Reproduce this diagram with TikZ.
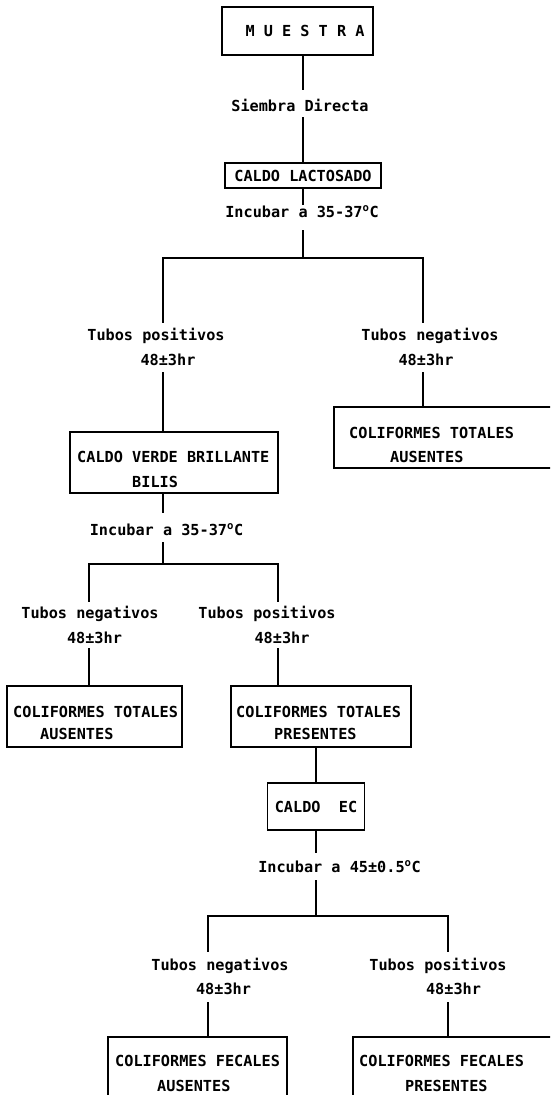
\documentclass[tikz,border=0pt]{standalone}
\usepackage{fontspec}
\setmainfont{DejaVu Sans Mono}
\begin{document}
\begin{tikzpicture}[x=1pt,y=-1pt,
  every node/.style={font=\fontsize{15.2}{24}\selectfont\bfseries},
  box/.style={draw, line width=1.5pt, rectangle, inner sep=0pt},
  lbl/.style={inner sep=0pt, anchor=base},
  btxt/.style={inner sep=0pt, anchor=base west},
  wire/.style={line width=1.5pt}]
\useasboundingbox (0,0) rectangle (550,1095);
\clip (0,0) rectangle (550,1095);

% boxes
\node[box, minimum width=151pt, minimum height=48pt] (muestra) at (297.5,31) {};
\node[btxt, anchor=base] (muestraT) at (305,36) {M U E S T R A};
\node[box, minimum width=156pt, minimum height=25pt] (lac) at (303,175.5) {CALDO LACTOSADO};
\node[box, minimum width=208pt, minimum height=61pt] (cvb) at (174,462.5) {};
\node[btxt] (cvbT1) at (77,462) {CALDO VERDE BRILLANTE};
\node[btxt] (cvbT2) at (132,487) {BILIS};
\node[box, minimum width=226pt, minimum height=61pt] (cta1) at (447,437.5) {};
\node[btxt] (cta1T1) at (349,438) {COLIFORMES TOTALES};
\node[btxt] (cta1T2) at (390,462) {AUSENTES};
\node[box, minimum width=175pt, minimum height=61pt] (cta2) at (94.5,716.5) {};
\node[btxt] (cta2T1) at (13,717) {COLIFORMES TOTALES};
\node[btxt] (cta2T2) at (40,739) {AUSENTES};
\node[box, minimum width=180pt, minimum height=61pt] (ctp) at (321,716.5) {};
\node[btxt] (ctpT1) at (236,717) {COLIFORMES TOTALES};
\node[btxt] (ctpT2) at (274,739) {PRESENTES};
\node[box, minimum width=97pt, minimum height=47pt] (ec) at (316,806.5) {CALDO\ \ EC};
\node[box, minimum width=179pt, minimum height=73pt] (cfa) at (197.5,1073.5) {};
\node[btxt] (cfaT1) at (115,1066) {COLIFORMES FECALES};
\node[btxt] (cfaT2) at (157,1091) {AUSENTES};
\node[box, minimum width=207pt, minimum height=73pt] (cfp) at (456.5,1073.5) {};
\node[btxt] (cfpT1) at (359,1066) {COLIFORMES FECALES};
\node[btxt] (cfpT2) at (405,1091) {PRESENTES};

% labels
\node[lbl, text height=21pt, text depth=6pt] (sd) at (300,111) {Siembra Directa};
\node[lbl, text height=12pt, text depth=13pt] (inc1) at (302,217) {Incubar a 35-37\textsuperscript{o}C};
\node[lbl, text height=17pt, text depth=3pt] (tp1a) at (156,340) {Tubos positivos};
\node[lbl, text height=10pt, text depth=7pt] (tp1b) at (168,365) {48±3hr};
\node[lbl, text height=17pt, text depth=3pt] (tn1a) at (430,340) {Tubos negativos};
\node[lbl, text height=10pt, text depth=7pt] (tn1b) at (426,365) {48±3hr};
\node[lbl, text height=22pt, text depth=7pt] (inc2) at (166.5,535) {Incubar a 35-37\textsuperscript{o}C};
\node[lbl, text height=16pt, text depth=3pt] (tn2a) at (90,618) {Tubos negativos};
\node[lbl, text height=10pt, text depth=5pt] (tn2b) at (94.5,643) {48±3hr};
\node[lbl, text height=16pt, text depth=3pt] (tp2a) at (267,618) {Tubos positivos};
\node[lbl, text height=10pt, text depth=5pt] (tp2b) at (282,643) {48±3hr};
\node[lbl, text height=19pt, text depth=8pt] (inc3) at (339.5,872) {Incubar a 45±0.5\textsuperscript{o}C};
\node[lbl, text height=18pt, text depth=3pt] (tn3a) at (220,970) {Tubos negativos};
\node[lbl, text height=10pt, text depth=8pt] (tn3b) at (223.5,994) {48±3hr};
\node[lbl, text height=18pt, text depth=3pt] (tp3a) at (438,970) {Tubos positivos};
\node[lbl, text height=10pt, text depth=8pt] (tp3b) at (453.5,994) {48±3hr};

% junctions
\coordinate (s1) at (303,258);
\coordinate (s1L) at (163,258);
\coordinate (s1R) at (423,258);
\coordinate (s2) at (163,564);
\coordinate (s2L) at (89,564);
\coordinate (s2R) at (278,564);
\coordinate (s3) at (316,916);
\coordinate (s3L) at (208,916);
\coordinate (s3R) at (448,916);

% connectors
\draw[wire] (muestra.south -| lac.north) -- (sd.north -| lac.north);
\draw[wire] (sd.south -| lac.north) -- (lac.north);
\draw[wire] (lac.south) -- (inc1.north -| lac.south);
\draw[wire] (inc1.south -| s1) -- (s1);
\draw[wire] (tp1a.north -| s1L) -- (s1L) -- (s1R) -- (tn1a.north -| s1R);
\draw[wire] (tp1b.south -| s1L) -- (cvb.north -| s1L);
\draw[wire] (tn1b.south -| s1R) -- (cta1.north -| s1R);
\draw[wire] (cvb.south -| s2) -- (inc2.north -| s2);
\draw[wire] (inc2.south -| s2) -- (s2);
\draw[wire] (tn2a.north -| s2L) -- (s2L) -- (s2R) -- (tp2a.north -| s2R);
\draw[wire] (tn2b.south -| s2L) -- (cta2.north -| s2L);
\draw[wire] (tp2b.south -| s2R) -- (ctp.north -| s2R);
\draw[wire] (ctp.south -| ec.north) -- (ec.north);
\draw[wire] (ec.south) -- (inc3.north -| ec.south);
\draw[wire] (inc3.south -| s3) -- (s3);
\draw[wire] (tn3a.north -| s3L) -- (s3L) -- (s3R) -- (tp3a.north -| s3R);
\draw[wire] (tn3b.south -| s3L) -- (cfa.north -| s3L);
\draw[wire] (tp3b.south -| s3R) -- (cfp.north -| s3R);
\end{tikzpicture}
\end{document}
